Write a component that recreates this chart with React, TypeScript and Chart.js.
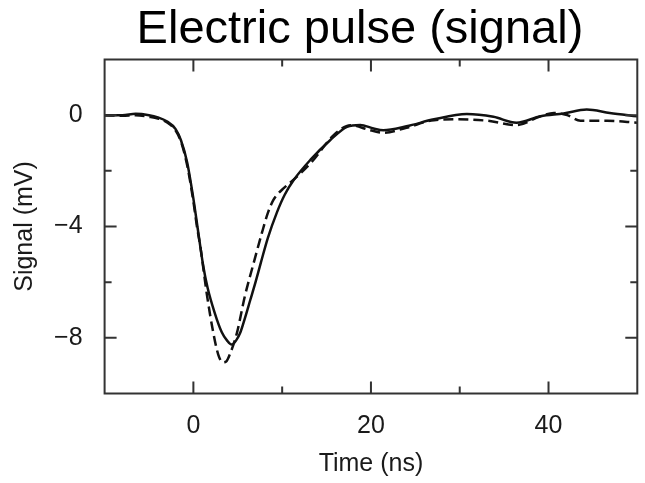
import { useEffect, useRef } from "react";
import { Chart, registerables } from "chart.js";

Chart.register(...registerables);

const chartTitle = "Electric pulse (signal)";
const xAxisTitle = "Time (ns)";
const yAxisTitle = "Signal (mV)";

const xMajorTicks = [0, 20, 40];
const xMinorTicks = [10, 30];
const yMajorTicks = [0, -4, -8];
const yMinorTicks = [-2, -6];

// Solid trace (measured)
const solidTime = [-10, -8, -6.5, -5, -4, -3, -2, -1.4, -0.7, 0, 0.5, 1.1, 1.6, 2.4, 3.2, 3.8, 4.3, 4.8, 5.3, 5.8, 6.4, 7.0, 7.6, 8.4, 9.4, 10.3, 11.3, 13.2, 15.4, 17.3, 18.8, 20.3, 21.4, 24, 27.1, 30.8, 33.8, 36.4, 39.1, 41.7, 44.3, 46.9, 50];
const solidSignal = [0, 0, 0.05, 0, -0.08, -0.22, -0.5, -0.9, -1.7, -3.0, -4.1, -5.4, -6.2, -7.1, -7.8, -8.1, -8.24, -8.1, -7.8, -7.3, -6.65, -6.0, -5.3, -4.4, -3.5, -2.85, -2.33, -1.6, -0.9, -0.42, -0.35, -0.48, -0.54, -0.4, -0.15, 0.04, -0.06, -0.27, -0.04, 0.06, 0.2, 0.08, -0.04];

// Dashed trace (simulated)
const dashedTime = [-10, -8, -6.5, -5, -4, -3, -2, -1.4, -0.7, 0, 0.4, 0.8, 1.5, 2.25, 2.8, 3.3, 3.7, 4.1, 4.9, 5.8, 6.8, 7.7, 8.4, 9.0, 9.6, 10.15, 11.7, 13.35, 15.8, 17.7, 19.9, 21.4, 24, 27.1, 29.7, 33.1, 36.4, 39.1, 40.6, 42.1, 43.6, 46.6, 50];
const dashedSignal = [0, -0.02, 0, -0.06, -0.12, -0.25, -0.55, -0.95, -1.8, -3.1, -4.0, -4.75, -6.4, -7.83, -8.6, -8.88, -8.85, -8.6, -7.83, -6.5, -5.3, -4.25, -3.5, -3.05, -2.8, -2.63, -2.2, -1.67, -0.72, -0.36, -0.54, -0.63, -0.45, -0.18, -0.15, -0.2, -0.36, -0.04, 0.08, 0, -0.2, -0.2, -0.27];

const FONT = "'Liberation Sans', Arial, Helvetica, sans-serif";
const AXIS_COLOR = "#333";
const TEXT_COLOR = "#1a1a1a";

const fmt = (v: number) => (v < 0 ? "\u2212" + Math.abs(v) : String(v));

const framePlugin = {
  id: "frameAndTicks",
  afterDatasetsDraw(chart: any) {
    const { ctx, chartArea: a, scales } = chart;
    const xs = scales.x;
    const ys = scales.y;
    ctx.save();
    ctx.strokeStyle = AXIS_COLOR;
    ctx.lineWidth = 2;
    ctx.strokeRect(a.left, a.top, a.right - a.left, a.bottom - a.top);
    const drawX = (vals: number[], len: number) => {
      vals.forEach((v) => {
        const px = xs.getPixelForValue(v);
        ctx.beginPath();
        ctx.moveTo(px, a.bottom);
        ctx.lineTo(px, a.bottom - len);
        ctx.moveTo(px, a.top);
        ctx.lineTo(px, a.top + len);
        ctx.stroke();
      });
    };
    const drawY = (vals: number[], len: number) => {
      vals.forEach((v) => {
        const py = ys.getPixelForValue(v);
        ctx.beginPath();
        ctx.moveTo(a.left, py);
        ctx.lineTo(a.left + len, py);
        ctx.moveTo(a.right, py);
        ctx.lineTo(a.right - len, py);
        ctx.stroke();
      });
    };
    drawX(xMajorTicks, 12);
    drawX(xMinorTicks, 7);
    drawY(yMajorTicks, 12);
    drawY(yMinorTicks, 7);

    ctx.fillStyle = "#000";
    ctx.font = `47px ${FONT}`;
    ctx.textAlign = "center";
    ctx.textBaseline = "alphabetic";
    ctx.fillText(chartTitle, (a.left + a.right) / 2 - 11, 43);
    ctx.restore();
  },
};

export default function App() {
  const ref = useRef<HTMLCanvasElement | null>(null);

  useEffect(() => {
    if (!ref.current) return;
    const chart = new Chart(ref.current, {
      type: "line",
      data: {
        datasets: [
          {
            label: "Solid",
            data: solidTime.map((t, i) => ({ x: t, y: solidSignal[i] })),
            borderColor: "#111",
            borderWidth: 2.5,
            pointRadius: 0,
            fill: false,
            cubicInterpolationMode: "monotone",
          },
          {
            label: "Dashed",
            data: dashedTime.map((t, i) => ({ x: t, y: dashedSignal[i] })),
            borderColor: "#111",
            borderWidth: 2.5,
            borderDash: [10, 5],
            pointRadius: 0,
            fill: false,
            cubicInterpolationMode: "monotone",
          },
        ],
      },
      options: {
        animation: false,
        responsive: true,
        maintainAspectRatio: false,
        layout: { padding: { top: 59.5, right: 7.7, left: 0, bottom: 0 } },
        plugins: {
          legend: { display: false },
          title: { display: false },
          tooltip: { enabled: false },
        },
        scales: {
          x: {
            type: "linear",
            min: -10,
            max: 50,
            grid: { display: false, drawTicks: false },
            border: { display: false },
            afterBuildTicks: (s: any) => {
              s.ticks = xMajorTicks.map((v) => ({ value: v }));
            },
            afterFit: (s: any) => {
              s.height = 89.5;
            },
            ticks: {
              padding: 18,
              color: TEXT_COLOR,
              font: { family: FONT, size: 25 },
              callback: (v: any) => fmt(Number(v)),
              maxRotation: 0,
            },
            title: {
              display: true,
              text: xAxisTitle,
              color: TEXT_COLOR,
              font: { family: FONT, size: 25 },
              padding: { top: 0, bottom: 4 },
            },
          },
          y: {
            type: "linear",
            min: -10,
            max: 2,
            grid: { display: false, drawTicks: false },
            border: { display: false },
            afterBuildTicks: (s: any) => {
              s.ticks = yMajorTicks.map((v) => ({ value: v }));
            },
            afterFit: (s: any) => {
              s.width = 104.6;
            },
            ticks: {
              padding: 22,
              color: TEXT_COLOR,
              font: { family: FONT, size: 25 },
              callback: (v: any) => fmt(Number(v)),
            },
            title: {
              display: true,
              text: yAxisTitle,
              color: TEXT_COLOR,
              font: { family: FONT, size: 25 },
              padding: { top: 10, bottom: 0 },
            },
          },
        },
      },
      plugins: [framePlugin],
    });
    return () => chart.destroy();
  }, []);

  return (
    <div style={{ position: "absolute", left: 0, top: 0, width: 645, height: 483, background: "#fff" }}>
      <canvas ref={ref} />
    </div>
  );
}
